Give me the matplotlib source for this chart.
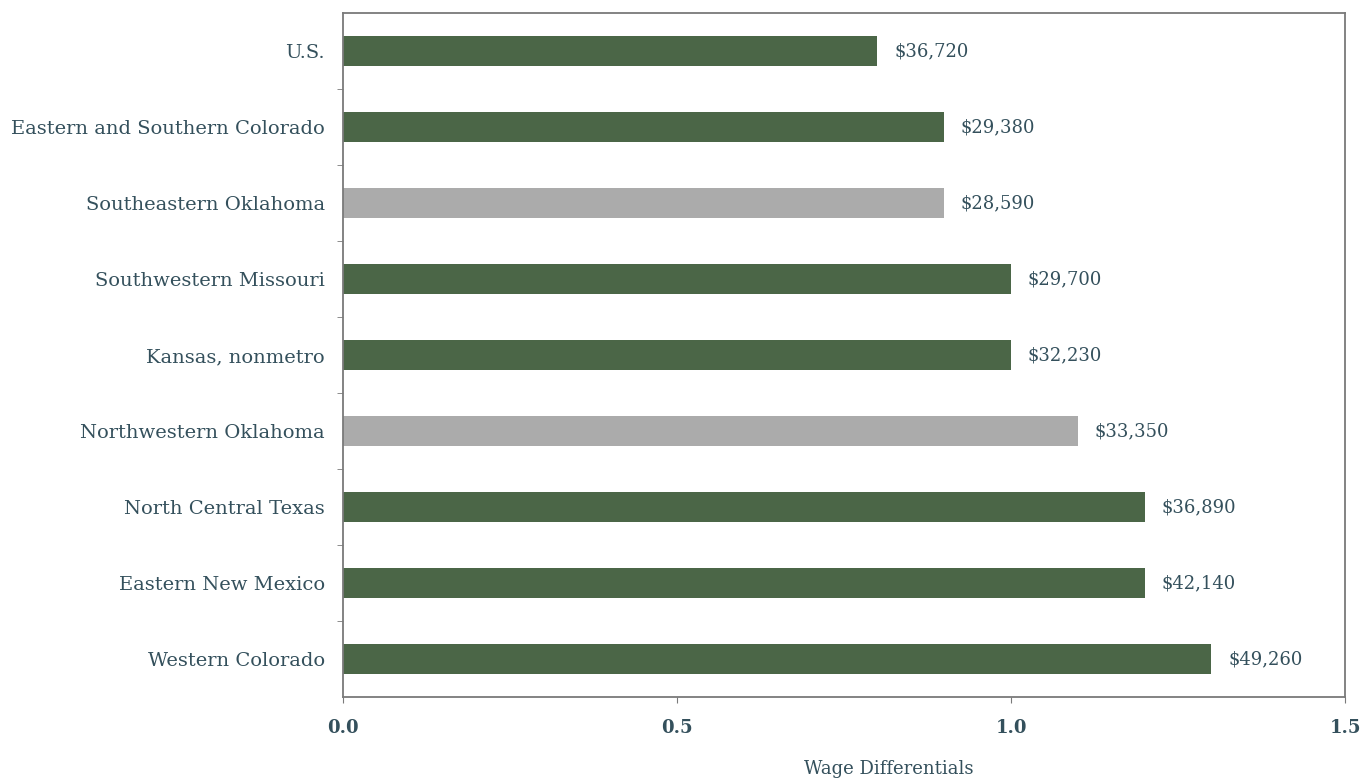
import matplotlib
matplotlib.use("Agg")
import matplotlib.pyplot as plt
import numpy as np

regions = [
    "U.S.",
    "Eastern and Southern Colorado",
    "Southeastern Oklahoma",
    "Southwestern Missouri",
    "Kansas, nonmetro",
    "Northwestern Oklahoma",
    "North Central Texas",
    "Eastern New Mexico",
    "Western Colorado",
]
wage_diff = [0.8, 0.9, 0.9, 1.0, 1.0, 1.1, 1.2, 1.2, 1.3]
wage_labels = ["$36,720", "$29,380", "$28,590", "$29,700", "$32,230",
               "$33,350", "$36,890", "$42,140", "$49,260"]
is_oklahoma = [False, False, True, False, False, True, False, False, False]

green = "#4b6647"
grey = "#ababab"
txt = "#34505c"
spine_c = "#7a7a7a"

plt.rcParams["font.family"] = ["DejaVu Serif"]

fig = plt.figure(figsize=(13.7, 7.78), dpi=100)
ax = fig.add_axes([0.2504, 0.1041, 0.7314, 0.8792])

y = np.arange(len(regions))
colors = [grey if ok else green for ok in is_oklahoma]
ax.barh(y, wage_diff, height=0.4, color=colors, edgecolor="none")

# dollar amounts just right of each bar
for yi, v, lab in zip(y, wage_diff, wage_labels):
    ax.text(v + 0.025, yi, lab, va="center", ha="left", fontsize=13, color=txt)

ax.set_xlim(0, 1.5)
ax.set_ylim(len(regions) - 0.5, -0.5)
ax.set_yticks(y)
ax.set_yticklabels(regions, fontsize=14, color=txt)
ax.set_yticks(np.arange(len(regions) - 1) + 0.5, minor=True)
ax.tick_params(axis="y", which="major", length=0, pad=13)
ax.tick_params(axis="y", which="minor", length=4, color=spine_c, direction="out")

ax.set_xticks([0, 0.5, 1.0, 1.5])
ax.set_xticklabels(["0.0", "0.5", "1.0", "1.5"], fontsize=13, fontweight="bold", color=txt)
ax.tick_params(axis="x", length=4, color=spine_c, pad=12)

ax.set_xlabel("Wage Differentials", fontsize=13, color=txt)
ax.xaxis.set_label_coords(0.545, -0.092)

for s in ax.spines.values():
    s.set_color(spine_c)
    s.set_linewidth(1.3)

fig.savefig("out.png", dpi=100, facecolor="white")
